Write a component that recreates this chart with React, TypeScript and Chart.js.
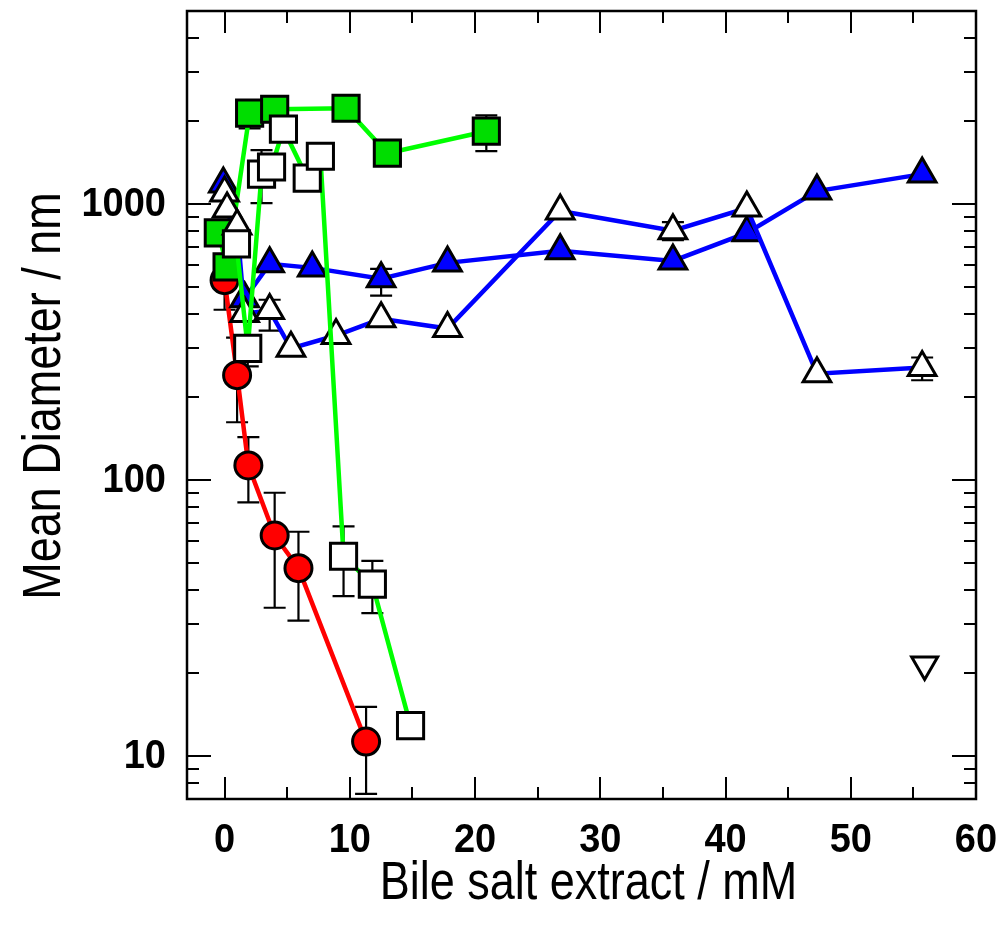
import React, { useEffect, useRef } from 'react';
import { Chart, registerables } from 'chart.js';

Chart.register(...registerables);

// ---- Data ----
// Red filled circles
const redX = [0, 1.0, 1.9, 4.0, 5.9, 11.3];
const redY = [530, 240, 113, 63, 48, 11.3];
const redLo = [414, 162, 83, 34.5, 31, 7.3];
const redHi = [null, 328, 143, 90, 65, 15.1];

// Green filled squares
const greenX = [-0.5, 0.2, 2.0, 4.0, 9.7, 13.0, 20.9];
const greenY = [786, 592, 2133, 2203, 2222, 1528, 1835];
const greenLo = [null, null, 1879, null, null, null, 1553];
const greenHi = [null, null, null, null, null, null, 2095];

// Open squares (green line)
const openSqX = [0.95, 1.85, 2.95, 3.75, 4.7, 6.6, 7.65, 9.5, 11.8, 14.85];
const openSqY = [717, 300, 1283, 1361, 1866, 1241, 1489, 53, 42, 12.9];
const openSqLo = [null, 258, 1008, null, null, null, null, 38, 33, null];
const openSqHi = [null, 326, 1567, null, null, null, null, 68, 51, null];

// Blue filled triangles
const blueX = [-0.1, 1.6, 3.6, 7.0, 12.5, 17.8, 26.8, 35.8, 41.7, 47.3, 55.7];
const blueY = [1181, 454, 607, 587, 536, 612, 677, 622, 786, 1114, 1283];
const blueLo = [null, null, null, null, 466, null, null, null, null, null, null];
const blueHi = [null, null, null, null, 582, null, null, null, null, null, null];

// Open triangles (blue line)
const openTriX = [0, 0.2, 1.0, 1.6, 3.6, 5.3, 8.9, 12.5, 17.8, 26.8, 35.8, 41.7, 47.3, 55.7];
const openTriY = [1096, 959, 833, 401, 411, 300, 334, 384, 354, 943, 800, 967, 243, 256];
const openTriLo = [null, null, null, null, 348, null, null, null, null, null, 740, null, null, 230];
const openTriHi = [null, null, null, null, 450, null, null, null, null, null, 860, null, null, 278];

// Open inverted triangle
const invX = [55.9];
const invY = [21.5];

// Axes
const xMin = -3;
const xMax = 60;
const yMin = 7;
const yMax = 5000;
const xMajorTicks = [0, 10, 20, 30, 40, 50, 60];
const xMinorTicks = [5, 15, 25, 35, 45, 55];
const yMajorTicks = [10, 100, 1000];
const yMinorTicks = [8, 9, 20, 30, 40, 50, 60, 70, 80, 90, 200, 300, 400, 500, 600, 700, 800, 900, 2000, 3000, 4000];

const xTitle = 'Bile salt extract / mM';
const yTitle = 'Mean Diameter / nm';

const pts = (xs: number[], ys: number[]) => xs.map((x, i) => ({ x, y: ys[i] }));

const errorSets = [
  { x: redX, y: redY, lo: redLo, hi: redHi },
  { x: greenX, y: greenY, lo: greenLo, hi: greenHi },
  { x: openSqX, y: openSqY, lo: openSqLo, hi: openSqHi },
  { x: blueX, y: blueY, lo: blueLo, hi: blueHi },
  { x: openTriX, y: openTriY, lo: openTriLo, hi: openTriHi },
];

const errorBarPlugin = {
  id: 'errorBars',
  beforeDatasetsDraw(chart: any) {
    const { ctx, scales } = chart;
    const xs = scales.x, ys = scales.y;
    ctx.save();
    ctx.strokeStyle = '#000';
    ctx.lineWidth = 2.2;
    const cap = 11;
    errorSets.forEach((s) => {
      s.x.forEach((xv: number, i: number) => {
        const px = xs.getPixelForValue(xv);
        const pv = ys.getPixelForValue(s.y[i]);
        const lo = s.lo[i];
        const hi = s.hi[i];
        ctx.beginPath();
        if (lo != null) {
          const p = ys.getPixelForValue(lo);
          ctx.moveTo(px, pv); ctx.lineTo(px, p);
          ctx.moveTo(px - cap, p); ctx.lineTo(px + cap, p);
        }
        if (hi != null) {
          const p = ys.getPixelForValue(hi);
          ctx.moveTo(px, pv); ctx.lineTo(px, p);
          ctx.moveTo(px - cap, p); ctx.lineTo(px + cap, p);
        }
        ctx.stroke();
      });
    });
    ctx.restore();
  },
};

const framePlugin = {
  id: 'frame',
  afterDatasetsDraw(chart: any) {
    const { ctx, chartArea, scales } = chart;
    const { left, right, top, bottom } = chartArea;
    const xs = scales.x, ys = scales.y;
    ctx.save();
    ctx.strokeStyle = '#000';
    ctx.lineWidth = 2;
    ctx.beginPath();
    const xt = (vals: number[], len: number) => {
      vals.forEach((v) => {
        const p = Math.round(xs.getPixelForValue(v));
        if (p <= left + 1 || p >= right - 1) return;
        ctx.moveTo(p, bottom); ctx.lineTo(p, bottom - len);
        ctx.moveTo(p, top); ctx.lineTo(p, top + len);
      });
    };
    const yt = (vals: number[], len: number) => {
      vals.forEach((v) => {
        const p = Math.round(ys.getPixelForValue(v));
        if (p <= top + 1 || p >= bottom - 1) return;
        ctx.moveTo(left, p); ctx.lineTo(left + len, p);
        ctx.moveTo(right, p); ctx.lineTo(right - len, p);
      });
    };
    xt(xMajorTicks, 22);
    xt(xMinorTicks, 12);
    yt(yMajorTicks, 24);
    yt(yMinorTicks, 12);
    ctx.stroke();
    ctx.lineWidth = 2.5;
    ctx.strokeRect(left, top, right - left, bottom - top);
    ctx.restore();
  },
};

const textPlugin = {
  id: 'texts',
  afterDraw(chart: any) {
    const { ctx, chartArea, scales } = chart;
    const xs = scales.x, ys = scales.y;
    const draw = (text: string, cx: number, cy: number, font: string, k: number, align: string, rot = 0) => {
      ctx.save();
      ctx.translate(cx, cy);
      if (rot) ctx.rotate(rot);
      ctx.scale(1, k);
      ctx.font = font;
      ctx.fillStyle = '#000';
      ctx.textAlign = align;
      ctx.textBaseline = 'middle';
      ctx.fillText(text, 0, 0);
      ctx.restore();
    };
    const tickFont = "bold 38px 'Liberation Sans', Arial, sans-serif";
    xMajorTicks.forEach((v) =>
      draw(String(v), xs.getPixelForValue(v), chartArea.bottom + 42, tickFont, 1.05, 'center')
    );
    yMajorTicks.forEach((v) =>
      draw(String(v), chartArea.left - 21, ys.getPixelForValue(v) + 1, tickFont, 1.05, 'right')
    );
    const titleFont = "45px 'Liberation Sans', Arial, sans-serif";
    draw(xTitle, (chartArea.left + chartArea.right) / 2 + 7, 884, titleFont, 1.2, 'center');
    draw(yTitle, 45, 396, titleFont, 1.2, 'center', -Math.PI / 2);
  },
};

export default function App() {
  const ref = useRef<HTMLCanvasElement | null>(null);

  useEffect(() => {
    if (!ref.current) return;
    const black = '#000000';
    const chart = new Chart(ref.current, {
      type: 'scatter',
      data: {
        datasets: [
          {
            label: 'open squares',
            data: pts(openSqX, openSqY),
            showLine: true,
            borderColor: '#00ff00',
            borderWidth: 4.5,
            pointStyle: 'rect',
            pointRadius: 18.5,
            pointBackgroundColor: '#ffffff',
            pointBorderColor: black,
            pointBorderWidth: 3,
          },
          {
            label: 'open triangles',
            data: pts(openTriX, openTriY),
            showLine: true,
            borderColor: '#0000ff',
            borderWidth: 4.5,
            pointStyle: 'triangle',
            pointRadius: 16,
            pointBackgroundColor: '#ffffff',
            pointBorderColor: black,
            pointBorderWidth: 3,
          },
          {
            label: 'green squares',
            data: pts(greenX, greenY),
            showLine: true,
            borderColor: '#00ff00',
            borderWidth: 4.5,
            pointStyle: 'rect',
            pointRadius: 18.5,
            pointBackgroundColor: '#00dd00',
            pointBorderColor: black,
            pointBorderWidth: 3,
          },
          {
            label: 'blue triangles',
            data: pts(blueX, blueY),
            showLine: true,
            borderColor: '#0000ff',
            borderWidth: 4.5,
            pointStyle: 'triangle',
            pointRadius: 16,
            pointBackgroundColor: '#0000ff',
            pointBorderColor: black,
            pointBorderWidth: 3,
          },
          {
            label: 'red circles',
            data: pts(redX, redY),
            showLine: true,
            borderColor: '#ff0000',
            borderWidth: 4.5,
            pointStyle: 'circle',
            pointRadius: 13.5,
            pointBackgroundColor: '#ff0000',
            pointBorderColor: black,
            pointBorderWidth: 3,
          },
          {
            label: 'inverted triangle',
            data: pts(invX, invY),
            showLine: false,
            pointStyle: 'triangle',
            rotation: 180,
            pointRadius: 15,
            pointBackgroundColor: '#ffffff',
            pointBorderColor: black,
            pointBorderWidth: 3,
          },
        ] as any,
      },
      options: {
        animation: false,
        responsive: true,
        maintainAspectRatio: false,
        layout: { autoPadding: false, padding: { top: 11, right: 26, left: 0, bottom: 0 } },
        plugins: {
          legend: { display: false },
          tooltip: { enabled: false },
        },
        scales: {
          x: {
            type: 'linear',
            min: xMin,
            max: xMax,
            afterBuildTicks: (s: any) => {
              s.ticks = xMajorTicks.map((v) => ({ value: v }));
            },
            afterFit: (s: any) => {
              s.height = 136;
              s.paddingLeft = 0;
              s.paddingRight = 0;
              s.paddingTop = 0;
              s.paddingBottom = 0;
            },
            grid: { display: false },
            border: { display: false },
            ticks: { display: false },
            title: { display: false },
          },
          y: {
            type: 'logarithmic',
            min: yMin,
            max: yMax,
            afterBuildTicks: (s: any) => {
              s.ticks = yMajorTicks.map((v) => ({ value: v }));
            },
            afterFit: (s: any) => {
              s.width = 187;
              s.paddingLeft = 0;
              s.paddingRight = 0;
              s.paddingTop = 0;
              s.paddingBottom = 0;
            },
            grid: { display: false },
            border: { display: false },
            ticks: { display: false },
            title: { display: false },
          },
        },
      } as any,
      plugins: [errorBarPlugin, framePlugin, textPlugin],
    });
    return () => chart.destroy();
  }, []);

  return (
    <div style={{ position: 'absolute', left: 0, top: 0, width: 1002, height: 935, background: '#fff' }}>
      <canvas ref={ref} />
    </div>
  );
}
